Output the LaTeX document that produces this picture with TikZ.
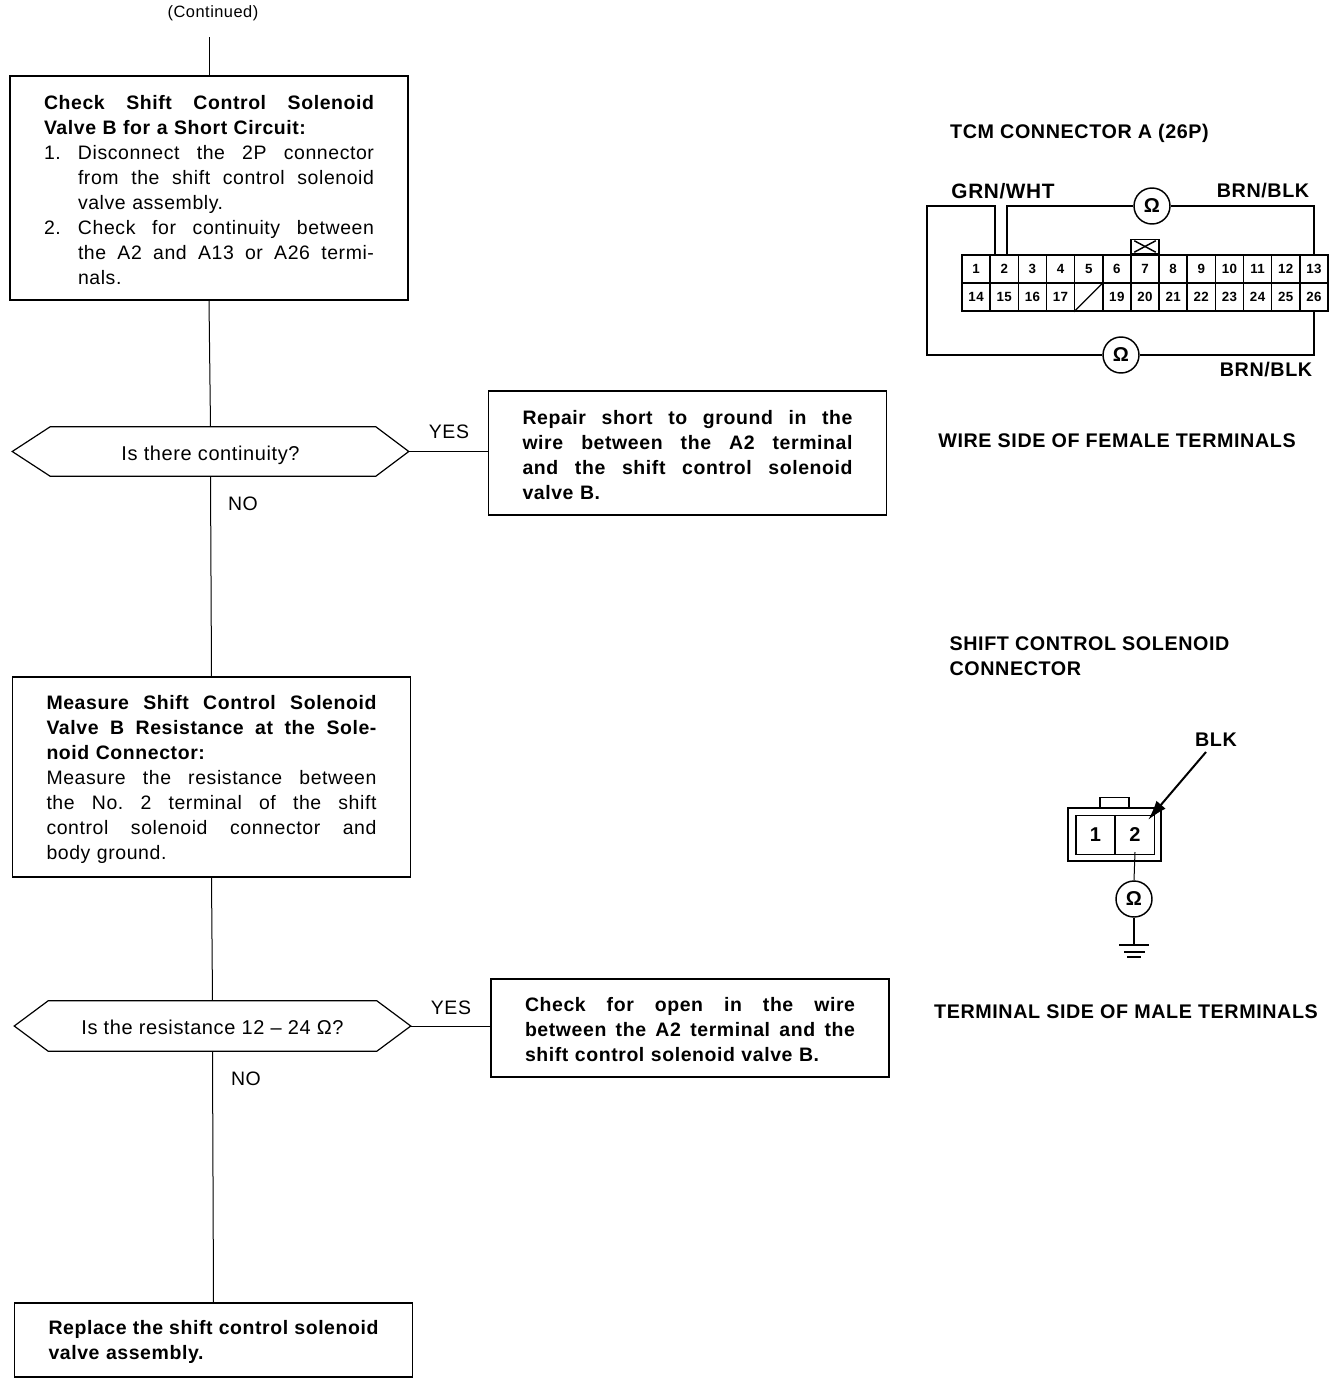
\documentclass[tikz,border=0pt]{standalone}
\usepackage{fontspec}
\setmainfont[LetterSpace=3]{Liberation Sans}
\usetikzlibrary{calc,arrows.meta}
\newcommand{\fillsp}{\spaceskip=.28em plus 1.5em minus .06em\relax\xspaceskip=\spaceskip}
\newcommand{\J}[1]{\makebox[247.5pt][s]{\fillsp #1}}
\newcommand{\JI}[2]{\makebox[25.5pt][l]{#1}\makebox[222pt][s]{\fillsp #2}}
\newcommand{\I}[1]{\hspace*{25.5pt}#1}
\tikzset{
  x=0.75pt,y=-0.75pt,
  flowbox/.style={draw,line width=0.9pt,inner xsep=25.5pt,inner ysep=0pt,text width=247.5pt,align=left,
    font=\fontsize{14.6}{18.75}\selectfont,execute at begin node={\rule{0pt}{13.6pt}}},
  decbox/.style={inner sep=0pt,minimum width=297pt,font=\fontsize{15}{18}\selectfont},
  edge/.style={line width=0.75pt},
  deco/.style={draw,line width=0.9pt},
  lab/.style={inner sep=0pt,font=\fontsize{14.6}{18}\selectfont},
  head/.style={inner sep=0pt,align=left,font=\bfseries\fontsize{14.8}{18.75}\selectfont},
  cell/.style={draw,line width=1.2pt,inner sep=0pt,minimum width=21.1pt,minimum height=21pt,font=\bfseries\fontsize{10}{12}\selectfont},
  wire/.style={line width=1.5pt},
  ohm/.style={draw,circle,line width=1.1pt,inner sep=0pt,minimum size=27pt,font=\bfseries\fontsize{15}{18}\selectfont},
}
\begin{document}
\begin{tikzpicture}
\useasboundingbox (0,0) rectangle (1344,1382);
\node[lab,font=\fontsize{12.3}{14}\selectfont] (cont) at (213,13) {(Continued)};
\coordinate (start) at (209,37);

\node[flowbox,minimum height=168pt] (b1) at (209,188) {%
\textbf{\J{Check Shift Control Solenoid}}\\
\textbf{Valve B for a Short Circuit:}\\
\JI{1.}{Disconnect the 2P connector}\\
\JI{}{from the shift control solenoid}\\
\I{valve assembly.}\\
\JI{2.}{Check for continuity between}\\
\JI{}{the A2 and A13 or A26 termi-}\\
\I{nals.}};

\node[decbox,minimum height=36.75pt,text depth=0pt] (d1) at (210.5,451.5) {\raisebox{-2pt}{Is there continuity?}};
\draw[deco] (d1.west) -- ($(d1.north west)+(38,0)$) -- ($(d1.north east)+(-33,0)$) -- (d1.east) -- ($(d1.south east)+(-33,0)$) -- ($(d1.south west)+(38,0)$) -- cycle;

\node[flowbox,minimum height=93pt,font=\bfseries\fontsize{14.6}{18.75}\selectfont] (b2) at (687.5,453) {%
\J{Repair short to ground in the}\\
\J{wire between the A2 terminal}\\
\J{and the shift control solenoid}\\
valve B.};

\node[flowbox,minimum height=150pt] (b3) at (211.5,777) {%
\textbf{\J{Measure Shift Control Solenoid}}\\
\textbf{\J{Valve B Resistance at the Sole-}}\\
\textbf{noid Connector:}\\
\J{Measure the resistance between}\\
\J{the No. 2 terminal of the shift}\\
\J{control solenoid connector and}\\
body ground.};

\node[decbox,minimum height=37.5pt,text depth=0pt] (d2) at (212.5,1026) {\raisebox{-2pt}{Is the resistance 12 – 24 Ω?}};
\draw[deco] (d2.west) -- ($(d2.north west)+(34,0)$) -- ($(d2.north east)+(-34,0)$) -- (d2.east) -- ($(d2.south east)+(-34,0)$) -- ($(d2.south west)+(34,0)$) -- cycle;

\node[flowbox,minimum height=73.5pt,font=\bfseries\fontsize{14.6}{18.75}\selectfont] (b4) at (690,1028) {%
\J{Check for open in the wire}\\
\J{between the A2 terminal and the}\\
shift control solenoid valve B.};

\node[flowbox,minimum height=55.5pt,font=\bfseries\fontsize{14.6}{18.75}\selectfont] (b5) at (213.5,1340) {%
\J{Replace the shift control solenoid}\\
valve assembly.};

\draw[edge] (start) -- (b1.north);
\draw[edge] (b1.south) -- (d1.north);
\draw[edge] (d1.south) -- (b3.north);
\draw[edge] (b3.south) -- (d2.north);
\draw[edge] (d2.south) -- (b5.north);
\draw[edge] (d1.east) -- (b2.west |- d1.east);
\draw[edge] (d2.east) -- (b4.west |- d2.east);
\node[lab] (y1) at (449,432) {YES};
\node[lab] (n1) at (243,504) {NO};
\node[lab] (y2) at (451,1008) {YES};
\node[lab] (n2) at (246,1079) {NO};

% right side: TCM connector
\node[head] (t1) at (1079.5,133) {TCM CONNECTOR A (26P)};
\node[head,font=\bfseries\fontsize{15.6}{18.75}\selectfont] (t2) at (1003,191) {GRN/WHT};
\node[head] (t3) at (1263,191) {BRN/BLK};
\node[head] (t4) at (1266,370) {BRN/BLK};
\node[head] (t5) at (1117,441) {WIRE SIDE OF FEMALE TERMINALS};
\foreach \n [count=\i from 0] in {1,...,13}
  \node[cell] (c\n) at ({976.1+\i*28.15},269) {\n};
\foreach \n/\l [count=\i from 0] in {14/14,15/15,16/16,17/17,18/,19/19,20/20,21/21,22/22,23/23,24/24,25/25,26/26}
  \node[cell] (c\n) at ({976.1+\i*28.15},297) {\l};
\draw[line width=0.9pt] (c18.south west) -- (c18.north east);
\node[draw,line width=1.1pt,inner sep=0pt,minimum width=21pt,minimum height=10.5pt,anchor=south] (tab) at (c7.north) {};
\draw[line width=1.1pt] ($(tab.north west)+(4,2)$) -- ($(tab.south east)+(-4,-2)$);
\draw[line width=1.1pt] ($(tab.south west)+(4,-2)$) -- ($(tab.north east)+(-4,2)$);
\node[ohm] (o1) at (1152,206) {Ω};
\node[ohm] (o2) at (1121,355) {Ω};
\coordinate (wa) at ($(c2.north)+(-9,0)$);
\coordinate (wb) at ($(c2.north)+(3,0)$);
\draw[wire] (wa) -- (wa |- o1.west) -- (927,206) -- (927,355) -- (o2.west);
\draw[wire] (wb) |- (o1.west);
\draw[wire] (o1.east) -| (c13.north);
\draw[wire] (o2.east) -| (c26.south);

% right side: solenoid connector
\node[head] (t6) at (1089.5,656) {SHIFT CONTROL SOLENOID\\CONNECTOR};
\node[head] (t7) at (1216,740) {BLK};
\node[head] (t8) at (1126,1012) {TERMINAL SIDE OF MALE TERMINALS};
\node[draw,line width=1.2pt,inner sep=0pt,minimum width=69.75pt,minimum height=39.75pt] (sc) at (1114.5,834.5) {};
\node[draw,line width=0.9pt,inner sep=0pt,minimum width=21.75pt,minimum height=7.5pt,anchor=south] (stab) at (1114.5,808) {};
\node[draw,line width=1.2pt,inner sep=0pt,minimum width=29.25pt,minimum height=29.25pt,font=\bfseries\fontsize{15}{18}\selectfont] (p1) at (1095.5,835) {1};
\node[draw,line width=1.2pt,inner sep=0pt,minimum width=29.25pt,minimum height=29.25pt,font=\bfseries\fontsize{15}{18}\selectfont] (p2) at (1135,835) {2};
\coordinate (blkfrom) at (1206,752);
\coordinate (blkto) at (1148,820);
\draw[line width=1.5pt,-{Latex[length=15pt,width=9pt]}] (blkfrom) -- (blkto);
\node[ohm] (o3) at (1134,899) {Ω};
\coordinate (gnd) at (1134,945);
\draw[line width=0.75pt] (1135,852) -- (o3.north);
\draw[line width=1pt] (o3.south) -- (gnd);
\draw[line width=1.1pt] (1119,945) -- (1149,945) (1124,952) -- (1145,952) (1127,957) -- (1141,957);
\end{tikzpicture}
\end{document}
